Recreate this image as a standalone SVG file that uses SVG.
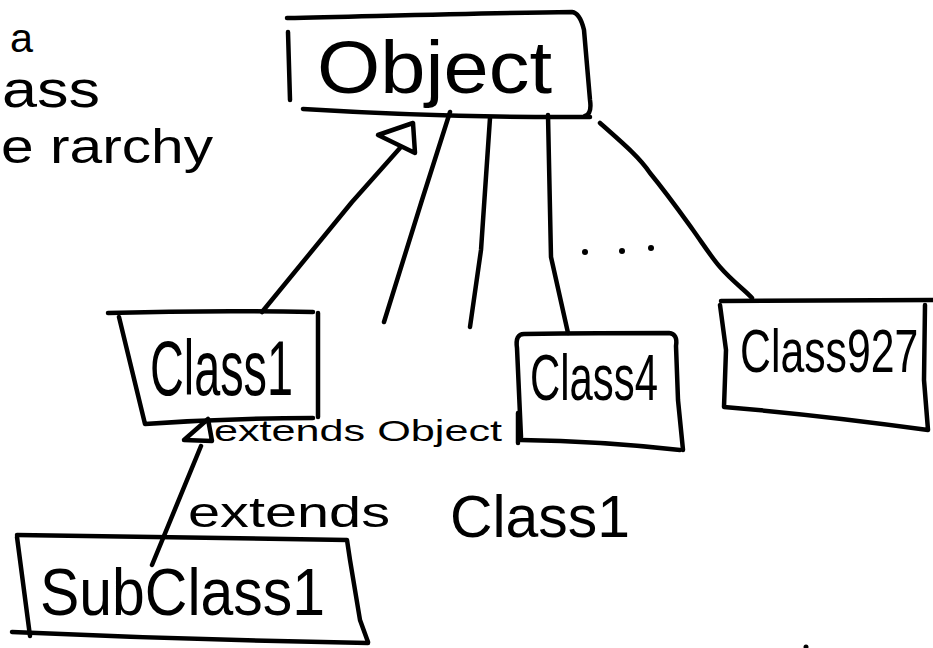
<svg xmlns="http://www.w3.org/2000/svg" width="933" height="648" viewBox="0 0 933 648">
  <style>
    .ink { fill: none; stroke: #000; stroke-width: 4.5; stroke-linecap: round; stroke-linejoin: round; }
    .head { fill: #fff; stroke: #000; stroke-width: 4.5; stroke-linejoin: round; }
    .hand { font-family: "Liberation Sans", "DejaVu Sans", sans-serif; fill: #000; }
    .dot { fill: #000; }
  </style>
  <rect width="933" height="648" fill="#fff"/>

  <!-- heading at the left edge -->
  <g id="title">
    <text class="hand" x="10" y="52" font-size="40" textLength="23" lengthAdjust="spacingAndGlyphs">a</text>
    <text class="hand" x="2" y="107" font-size="52" textLength="98" lengthAdjust="spacingAndGlyphs">ass</text>
    <text class="hand" x="1" y="163" font-size="48" textLength="212" lengthAdjust="spacingAndGlyphs">e rarchy</text>
  </g>

  <!-- connectors -->
  <g id="connectors">
    <!-- Class1 to Object, hollow inheritance head -->
    <path class="ink" d="M400,148 L352,202 L262,312"/>
    <polygon class="head" points="378,135 413,123 415,153"/>
    <!-- dangling subclass edges -->
    <path class="ink" d="M450,112 L422,200 L384,322"/>
    <path class="ink" d="M490,118 L481,250 L470,327"/>
    <!-- Class4 to Object -->
    <path class="ink" d="M548,115 L551,257 L568,333"/>
    <!-- Class927 to Object -->
    <path class="ink" d="M600,123 C625,145 640,158 650,173 C668,195 680,212 693,230 C705,247 712,258 720,267 C733,282 745,290 752,298"/>
    <!-- ellipsis between siblings -->
    <circle class="dot" cx="585" cy="252" r="3"/>
    <circle class="dot" cx="622" cy="251" r="3"/>
    <circle class="dot" cx="651" cy="248" r="3"/>
    <!-- SubClass1 to Class1 -->
    <path class="ink" d="M201,446 L152,565"/>
    <polygon class="head" points="184,440 208,419 212,441"/>
    <!-- stray pen mark -->
    <circle class="dot" cx="806" cy="647" r="2.5"/>
  </g>

  <g id="object">
    <path class="ink" d="M287,18 C380,16 480,13 572,12 Q580,13 584,30 L590,100 Q592,114 585,116"/>
    <path class="ink" d="M288,32 L290,100"/>
    <path class="ink" d="M303,109 Q450,118 590,117"/>
    <text class="hand" x="317" y="93" font-size="74" textLength="235" lengthAdjust="spacingAndGlyphs">Object</text>
  </g>

  <g id="class1">
    <path class="ink" d="M108,313 Q210,310 313,312"/>
    <path class="ink" d="M119,317 L145,424 Q230,418 313,418"/>
    <path class="ink" d="M318,313 L318,417"/>
    <text class="hand" x="150" y="395" font-size="78" textLength="143" lengthAdjust="spacingAndGlyphs">Class1</text>
    <text class="hand" x="214" y="441" font-size="30" textLength="288" lengthAdjust="spacingAndGlyphs">extends Object</text>
  </g>

  <g id="class4">
    <path class="ink" d="M518,413 L518,443"/>
    <path class="ink" d="M521,440 Q600,441 680,450"/>
    <path class="ink" d="M521,437 L517,348 Q515,334 524,334 Q600,333 669,333 Q678,334 676,346 L678,400 L683,450"/>
    <text class="hand" x="530" y="400" font-size="64" textLength="128" lengthAdjust="spacingAndGlyphs">Class4</text>
  </g>

  <g id="class927">
    <path class="ink" d="M721,301 Q820,301 933,300"/>
    <path class="ink" d="M720,305 L726,350 L724,407 Q820,415 928,430 L924,380 L925,305"/>
    <text class="hand" font-size="62" transform="translate(740,372) scale(0.69,1)">Class927</text>
  </g>

  <g id="subclass1">
    <path class="ink" d="M17,535 Q180,538 347,540 L350,560 L360,620 L368,642"/>
    <path class="ink" d="M17,537 L30,636"/>
    <path class="ink" d="M12,632 Q190,640 368,643"/>
    <text class="hand" x="40" y="615" font-size="66" textLength="285" lengthAdjust="spacingAndGlyphs">SubClass1</text>
  </g>

  <!-- edge label between SubClass1 and Class1 -->
  <g id="label-extends-class1">
    <text class="hand" x="188" y="527" font-size="42"><tspan textLength="202" lengthAdjust="spacingAndGlyphs">extends</tspan><tspan x="450" y="537" font-size="60" textLength="180" lengthAdjust="spacingAndGlyphs">Class1</tspan></text>
  </g>
</svg>
